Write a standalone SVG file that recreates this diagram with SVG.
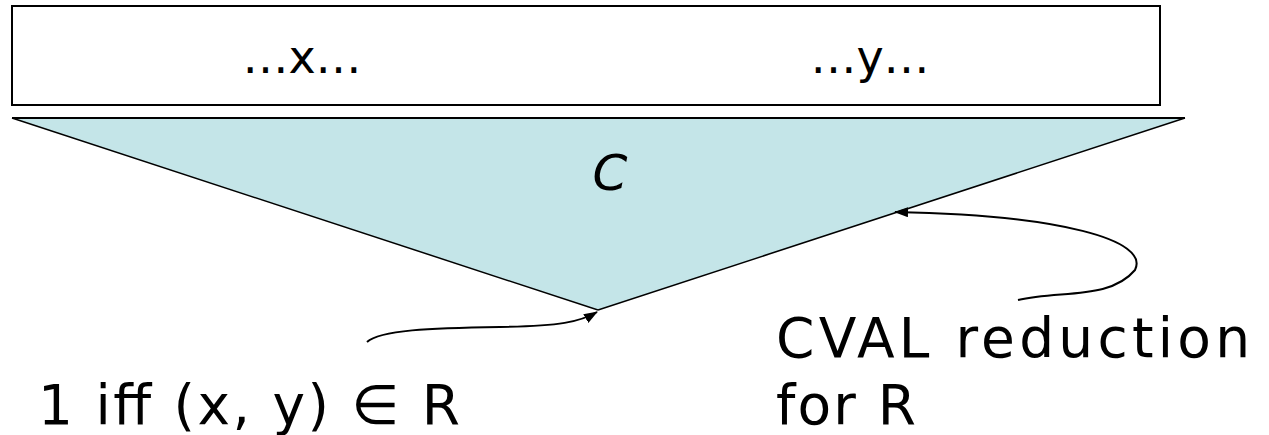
<svg xmlns="http://www.w3.org/2000/svg" width="1269" height="435" viewBox="0 0 1269 435">
<style>
.t{font-family:"DejaVu Sans","Liberation Sans",sans-serif;fill:#000}
.c{fill:none;stroke:#000;stroke-width:2}
</style>
<defs>
<marker id="ah" viewBox="0 0 14 10" refX="13" refY="5" markerWidth="14" markerHeight="10" orient="auto" markerUnits="userSpaceOnUse">
<path d="M0,0 L14,5 L0,10 z" fill="#000"/>
</marker>
</defs>
<rect width="1269" height="435" fill="#fff"/>
<g id="tape">
<rect x="12" y="6" width="1148" height="99" fill="#fff" stroke="#000" stroke-width="2"/>
<text class="t" x="302" y="73" font-size="46" text-anchor="middle">…x…</text>
<text class="t" x="870" y="73" font-size="46" text-anchor="middle">…y…</text>
</g>
<g id="circuit">
<polygon points="12,118 1185,118 598,310" fill="#C4E5E8"/>
<line x1="12" y1="118" x2="1185" y2="118" stroke="#000" stroke-width="2"/>
<line x1="12" y1="118" x2="598" y2="310" stroke="#000" stroke-width="1.5"/>
<line x1="1185" y1="118" x2="598" y2="310" stroke="#000" stroke-width="1.5"/>
<text class="t" x="610" y="190" font-size="50" font-style="italic" text-anchor="middle">C</text>
</g>
<g id="connectors">
<path class="c" d="M367,342 C380,330 430,328 500,327 C560,326 580,322 597,312" marker-end="url(#ah)"/>
<path class="c" d="M1018,300 C1060,290 1110,300 1135,270 C1150,240 1060,215 895,212" marker-end="url(#ah)"/>
</g>
<g id="label-out">
<text class="t" x="38" y="424" font-size="55" textLength="422" lengthAdjust="spacing">1 iff (x, y) ∈ R</text>
</g>
<g id="label-red">
<text class="t" x="776" y="357" font-size="55" textLength="474" lengthAdjust="spacing">CVAL reduction</text>
<text class="t" x="776" y="424" font-size="55" textLength="140" lengthAdjust="spacing">for R</text>
</g>
</svg>
